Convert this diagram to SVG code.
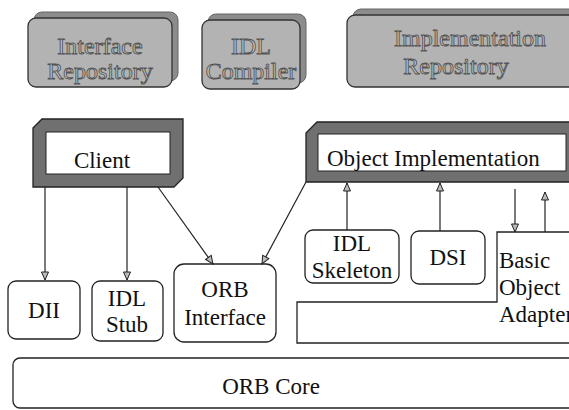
<svg xmlns="http://www.w3.org/2000/svg" width="569" height="410" viewBox="0 0 569 410">
<defs>
<style>
text{font-family:'Liberation Serif','DejaVu Serif','Times New Roman',serif}
.t{font-size:23px;fill:#111;text-anchor:middle}
.tl{font-size:23px;fill:#111}
.g{font-size:24px;fill:#c4c4c4;stroke:#555;stroke-width:0.9;text-anchor:middle}
.gbox{fill:#b3b3b3;stroke:#333;stroke-width:1.3}
.gsh{fill:#8c8c8c;stroke:#666;stroke-width:1}
.frame{fill:#707070;stroke:#222;stroke-width:1.3}
.inner{fill:#fff;stroke:#222;stroke-width:1}
.box{fill:#fff;stroke:#222;stroke-width:1.3}
.c{fill:none;stroke:#222;stroke-width:1.2}
</style>
<marker id="ah" markerUnits="userSpaceOnUse" markerWidth="10" markerHeight="10" viewBox="0 0 10 10" refX="9" refY="5" orient="auto">
<path d="M1,1.5 L9,5 L1,8.5 Z" fill="#bbb" stroke="#222" stroke-width="1"/>
</marker>
</defs>

<g id="interface-repository">
<rect class="gsh" x="34" y="12" width="144" height="69" rx="8"/>
<rect class="gbox" x="28" y="18" width="144" height="69" rx="8"/>
<text class="g" x="100" y="54" font-family="Liberation Serif, serif">Interface</text>
<text class="g" x="100" y="79" font-family="Liberation Serif, serif">Repository</text>
</g>

<g id="idl-compiler">
<rect class="gsh" x="208" y="14" width="98" height="69" rx="8"/>
<rect class="gbox" x="202" y="20" width="98" height="69" rx="8"/>
<text class="g" x="251" y="54" font-family="Liberation Serif, serif">IDL</text>
<text class="g" x="251" y="79" font-family="Liberation Serif, serif">Compiler</text>
</g>

<g id="implementation-repository">
<rect class="gsh" x="353" y="9" width="240" height="72" rx="8"/>
<rect class="gbox" x="347" y="15" width="240" height="72" rx="8"/>
<text class="g" x="470" y="46" font-family="Liberation Serif, serif">Implementation</text>
<text class="g" x="456" y="74" font-family="Liberation Serif, serif">Repository</text>
</g>

<g id="client">
<path class="frame" d="M33,128 L42,119 L183,119 L183,178 L174,187 L33,187 Z"/>
<rect class="inner" x="46" y="132" width="124" height="42"/>
<text class="t" x="102" y="168" font-family="Liberation Serif, serif">Client</text>
</g>

<g id="object-implementation">
<path class="frame" d="M306,133 L317,122 L600,122 L600,182 L306,182 Z"/>
<rect class="inner" x="318" y="134" width="248" height="37"/>
<text class="tl" x="327" y="166" font-family="Liberation Serif, serif">Object Implementation</text>
</g>

<g id="dii">
<rect class="box" x="8" y="281" width="72" height="58" rx="8"/>
<text class="t" x="44" y="318" font-family="Liberation Serif, serif">DII</text>
</g>

<g id="idl-stub">
<rect class="box" x="92" y="281" width="71" height="60" rx="8"/>
<text class="t" x="127" y="306" font-family="Liberation Serif, serif">IDL</text>
<text class="t" x="127" y="332" font-family="Liberation Serif, serif">Stub</text>
</g>

<g id="orb-interface">
<rect class="box" x="174" y="264" width="102" height="78" rx="10"/>
<text class="t" x="225" y="297" font-family="Liberation Serif, serif">ORB</text>
<text class="t" x="225" y="325" font-family="Liberation Serif, serif">Interface</text>
</g>

<g id="idl-skeleton">
<rect class="box" x="305" y="230" width="94" height="53" rx="8"/>
<text class="t" x="352" y="251" font-family="Liberation Serif, serif">IDL</text>
<text class="t" x="352" y="278" font-family="Liberation Serif, serif">Skeleton</text>
</g>

<g id="dsi">
<rect class="box" x="411" y="231" width="74" height="53" rx="8"/>
<text class="t" x="448" y="265" font-family="Liberation Serif, serif">DSI</text>
</g>

<g id="basic-object-adapter">
<path class="box" d="M575,232 L497,232 L497,302 L297,302 L297,343 L575,343"/>
<text class="tl" x="499" y="268" font-family="Liberation Serif, serif">Basic</text>
<text class="tl" x="499" y="295" font-family="Liberation Serif, serif">Object</text>
<text class="tl" x="499" y="322" font-family="Liberation Serif, serif">Adapter</text>
</g>

<g id="orb-core">
<rect class="box" x="13" y="358" width="580" height="50" rx="7"/>
<text class="t" x="271" y="394" font-family="Liberation Serif, serif">ORB Core</text>
</g>

<g id="connectors">
<line class="c" x1="45" y1="187" x2="45" y2="280" marker-end="url(#ah)"/>
<line class="c" x1="127" y1="187" x2="127" y2="280" marker-end="url(#ah)"/>
<line class="c" x1="158" y1="187" x2="213" y2="264" marker-end="url(#ah)"/>
<line class="c" x1="306" y1="182" x2="262" y2="264" marker-end="url(#ah)"/>
<line class="c" x1="347" y1="230" x2="347" y2="183" marker-end="url(#ah)"/>
<line class="c" x1="440" y1="231" x2="440" y2="183" marker-end="url(#ah)"/>
<line class="c" x1="515" y1="189" x2="515" y2="232" marker-end="url(#ah)"/>
<line class="c" x1="545" y1="232" x2="545" y2="192" marker-end="url(#ah)"/>
</g>
</svg>
